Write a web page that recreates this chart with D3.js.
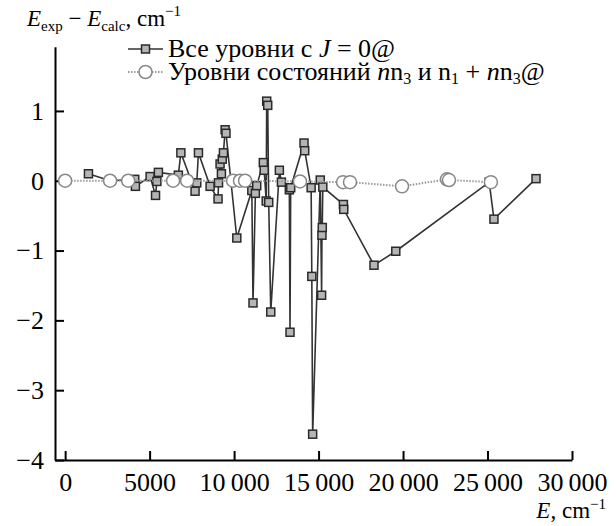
<!DOCTYPE html>
<html>
<head>
<meta charset="utf-8">
<script src="https://cdn.jsdelivr.net/npm/d3@7"></script>
<style>
body { margin: 0; background: #fff; }
</style>
</head>
<body>
<svg id="chart"></svg>
<script>
// all levels with J = 0
let allE = [1380, 2660, 4120, 4160, 5030, 5350, 5430, 5520, 6700, 6850, 7690, 7790, 7890, 8580,
    9050, 9080, 9170, 9250, 9300, 9370, 9470, 9520, 10160, 11050, 11120, 11260, 11340, 11730,
    11780, 11900, 11930, 11990, 12050, 12170, 12680, 12800, 13270, 13310, 13350, 14140, 14180,
    14560, 14600, 14650, 15100, 15180, 15200, 15220, 15250, 16470, 16490, 18280, 19570, 25100,
    25380, 27870]
let allV = [0.10, 0.00, 0.02, -0.08, 0.06, -0.21, -0.01, 0.12, 0.08, 0.40, -0.15, -0.03, 0.40, -0.08,
    -0.26, -0.03, 0.24, 0.10, 0.31, 0.40, 0.73, 0.68, -0.82, -0.14, -1.75, -0.18, -0.07, 0.26,
    0.15, -0.29, 1.14, 1.08, -0.31, -1.88, 0.15, -0.02, -0.13, -2.17, -0.10, 0.54, 0.43,
    -0.10, -1.37, -3.63, 0.01, -1.64, -0.78, -0.67, -0.09, -0.34, -0.41, -1.21, -1.01, -0.02,
    -0.55, 0.03]

// levels of n*nu3 and nu1 + n*nu3
let n3E = [0, 2660, 3730, 6390, 7220, 9940, 10350, 10650, 13900, 16450, 16860, 19940, 22600, 22720, 25200]
let n3V = [0, 0, 0, 0, 0, 0, 0, 0, -0.01, -0.02, -0.02, -0.08, 0.02, 0.01, -0.02]

let xTicks = [0, 5000, 10000, 15000, 20000, 25000, 30000]
let yTicks = [-4, -3, -2, -1, 0, 1]

let width = 616
let height = 526
let serifFont = "Liberation Serif"
let fsTick = 26
let fsLeg = 26
let fsTitle = 23
let fsSub = 16

let svg = d3.select("#chart")
    .attr("width", width)
    .attr("height", height)

let xScale = d3.scaleLinear()
    .domain([-600, 30000])
    .range([55, 572])

let yScale = d3.scaleLinear()
    .domain([-4, 1.92])
    .range([460, 46.7])

let fmt = d => {
    let s = String(Math.abs(d))
    if (Math.abs(d) >= 10000) s = s.slice(0, -3) + "\u2009" + s.slice(-3)
    return (d < 0 ? "\u2212" : "") + s
}

let xAxis = d3.axisBottom(xScale)
    .tickValues(xTicks)
    .tickFormat(fmt)
    .tickSizeInner(-9)
    .tickSizeOuter(0)
    .tickPadding(13)

svg.append("g")
    .attr("transform", "translate(0," + yScale(-4) + ")")
    .call(xAxis)

let yAxis = d3.axisLeft(yScale)
    .tickValues(yTicks)
    .tickFormat(fmt)
    .tickSizeInner(-9)
    .tickSizeOuter(0)
    .tickPadding(11)

svg.append("g")
    .attr("transform", "translate(" + xScale(-600) + ",0)")
    .call(yAxis)

svg.selectAll(".domain, .tick line")
    .attr("stroke", "#000")
    .attr("stroke-width", 2)

svg.selectAll(".tick text")
    .attr("font-size", fsTick)
    .attr("fill", "#000")

let allData = allE.map((e, i) => ({ e: e, v: allV[i] }))
let n3Data = n3E.map((e, i) => ({ e: e, v: n3V[i] }))

let line = d3.line()
    .x(d => xScale(d.e))
    .y(d => yScale(d.v))

svg.append("path")
    .datum(allData)
    .attr("d", line)
    .attr("fill", "none")
    .attr("stroke", "#333")
    .attr("stroke-width", 1.6)

svg.selectAll(".sq")
    .data(allData)
    .enter()
    .append("rect")
    .attr("class", "sq")
    .attr("x", d => xScale(d.e) - 4)
    .attr("y", d => yScale(d.v) - 4)
    .attr("width", 8)
    .attr("height", 8)
    .attr("fill", "#b5b5b5")
    .attr("stroke", "#2a2a2a")
    .attr("stroke-width", 1.5)

svg.append("path")
    .datum(n3Data)
    .attr("d", line)
    .attr("fill", "none")
    .attr("stroke", "#999")
    .attr("stroke-width", 2)
    .attr("stroke-dasharray", "1.5,1.5")

svg.selectAll(".circ")
    .data(n3Data)
    .enter()
    .append("circle")
    .attr("class", "circ")
    .attr("cx", d => xScale(d.e))
    .attr("cy", d => yScale(d.v))
    .attr("r", 6.5)
    .attr("fill", "#fff")
    .attr("stroke", "#888")
    .attr("stroke-width", 1.5)

// legend
let leg = svg.append("g")

leg.append("line")
    .attr("x1", 128).attr("x2", 163).attr("y1", 49).attr("y2", 49)
    .attr("stroke", "#333").attr("stroke-width", 1.6)
leg.append("rect")
    .attr("x", 141.5).attr("y", 45).attr("width", 8).attr("height", 8)
    .attr("fill", "#b5b5b5").attr("stroke", "#2a2a2a").attr("stroke-width", 1.5)
let t1 = leg.append("text").attr("x", 168).attr("y", 57).attr("font-size", fsLeg)
t1.append("tspan").text("Все уровни с ")
t1.append("tspan").attr("font-style", "italic").text("J")
t1.append("tspan").text(" = 0@")

leg.append("line")
    .attr("x1", 128).attr("x2", 163).attr("y1", 72).attr("y2", 72)
    .attr("stroke", "#999").attr("stroke-width", 2).attr("stroke-dasharray", "1.5,1.5")
leg.append("circle")
    .attr("cx", 145.5).attr("cy", 72).attr("r", 6.5)
    .attr("fill", "#fff").attr("stroke", "#888").attr("stroke-width", 1.5)
let t2 = leg.append("text").attr("x", 168).attr("y", 80).attr("font-size", fsLeg)
t2.append("tspan").text("Уровни состояний ")
t2.append("tspan").attr("font-style", "italic").text("n")
t2.append("tspan").text("n")
t2.append("tspan").attr("dy", 4).attr("font-size", fsSub).text("3")
t2.append("tspan").attr("dy", -4).text(" и n")
t2.append("tspan").attr("dy", 4).attr("font-size", fsSub).text("1")
t2.append("tspan").attr("dy", -4).text(" + ")
t2.append("tspan").attr("font-style", "italic").text("n")
t2.append("tspan").text("n")
t2.append("tspan").attr("dy", 4).attr("font-size", fsSub).text("3")
t2.append("tspan").attr("dy", -4).text("@")

// axis titles
let yt = svg.append("text").attr("x", 27).attr("y", 26).attr("font-size", fsTitle)
yt.append("tspan").attr("font-style", "italic").text("E")
yt.append("tspan").attr("dy", 5).attr("font-size", 15).text("exp")
yt.append("tspan").attr("dy", -5).text(" \u2212 ")
yt.append("tspan").attr("font-style", "italic").text("E")
yt.append("tspan").attr("dy", 5).attr("font-size", 15).text("calc")
yt.append("tspan").attr("dy", -5).text(", cm")
yt.append("tspan").attr("dy", -10).attr("font-size", 15).text("\u22121")

let xt = svg.append("text").attr("x", 606).attr("y", 518)
    .attr("text-anchor", "end").attr("font-size", fsTitle)
xt.append("tspan").attr("font-style", "italic").text("E")
xt.append("tspan").text(", cm")
xt.append("tspan").attr("dy", -9).attr("font-size", 15).text("\u22121")

// serif everywhere, set on each text node
svg.selectAll("text")
    .attr("font-family", serifFont)
    .style("font-family", "'Liberation Serif', 'Times New Roman', serif")
</script>
</body>
</html>
